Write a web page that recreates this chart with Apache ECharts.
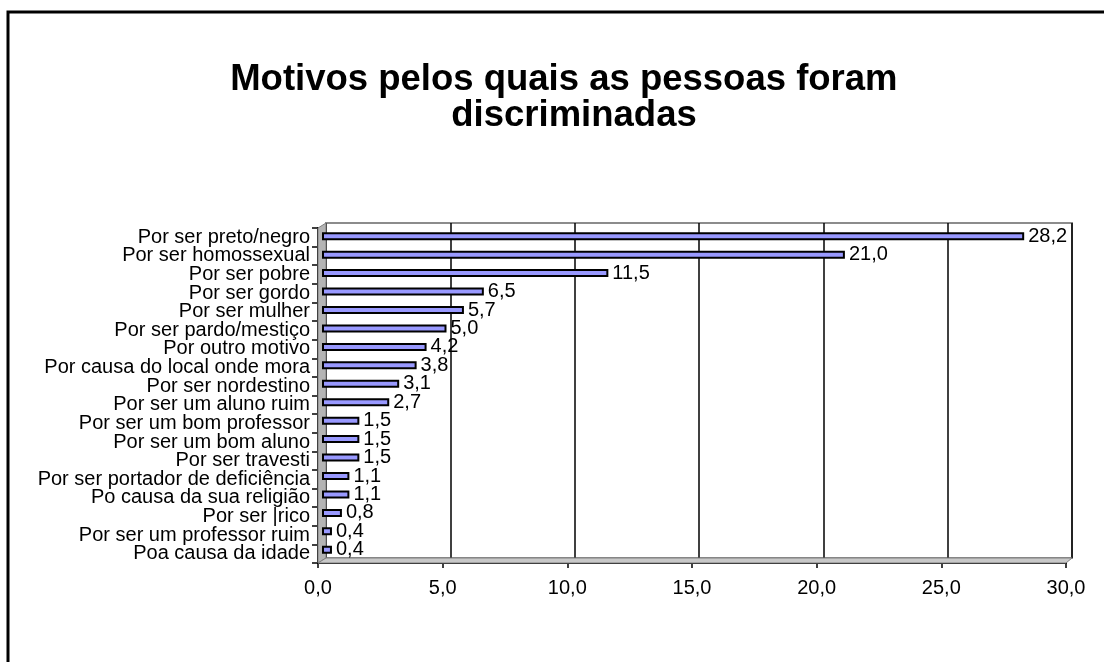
<!DOCTYPE html>
<html>
<head>
<meta charset="utf-8">
<script src="https://cdn.jsdelivr.net/npm/echarts@6/dist/echarts.min.js"></script>
<style>
  html, body { margin: 0; padding: 0; background: #ffffff; }
  #chart { width: 1104px; height: 662px; }
</style>
</head>
<body>
<div id="chart"></div>
<script>
// Motivos de discriminação (%)
const categories = [
  'Por ser preto/negro',
  'Por ser homossexual',
  'Por ser pobre',
  'Por ser gordo',
  'Por ser mulher',
  'Por ser pardo/mestiço',
  'Por outro motivo',
  'Por causa do local onde mora',
  'Por ser nordestino',
  'Por ser um aluno ruim',
  'Por ser um bom professor',
  'Por ser um bom aluno',
  'Por ser travesti',
  'Por ser portador de deficiência',
  'Po causa da sua religião',
  'Por ser |rico',
  'Por ser um professor ruim',
  'Poa causa da idade'
];
const values = [28.2, 21.0, 11.5, 6.5, 5.7, 5.0, 4.2, 3.8, 3.1, 2.7, 1.5, 1.5, 1.5, 1.1, 1.1, 0.8, 0.4, 0.4];
const xMin = 0, xMax = 30, xStep = 5;

const FONT = "'Liberation Sans', Arial, sans-serif";
const fmt = v => v.toFixed(1).replace('.', ',');

const chart = echarts.init(document.getElementById('chart'), null, { renderer: 'canvas' });

chart.setOption({
  animation: false,
  backgroundColor: '#ffffff',
  title: {
    text: 'Motivos pelos quais as pessoas foram  \ndiscriminadas',
    left: 569,
    top: 57,
    textAlign: 'center',
    textStyle: {
      fontFamily: FONT,
      fontWeight: 'bold',
      fontSize: 36.5,
      lineHeight: 36,
      color: '#000000'
    }
  },
  graphic: [
    // outer frame
    {
      type: 'rect', z: 10, silent: true,
      shape: { x: 8, y: 12, width: 1200, height: 800 },
      style: { fill: 'none', stroke: '#000000', lineWidth: 3 }
    },
    // left side wall of the 3D plot
    {
      type: 'polygon', z: 1, silent: true,
      shape: { points: [[318, 228], [326, 223], [326, 558], [318, 563]] },
      style: { fill: '#b4b4b4', stroke: '#808080', lineWidth: 1 }
    },
    // floor of the 3D plot
    {
      type: 'polygon', z: 1, silent: true,
      shape: { points: [[318, 563], [326, 558], [1072, 558], [1066, 563]] },
      style: { fill: '#c8c8c8', stroke: '#808080', lineWidth: 1 }
    }
  ],
  grid: [
    // back wall with gridlines
    { left: 326, right: 32, top: 223, bottom: 104, show: true,
      backgroundColor: '#ffffff', borderColor: '#8c8c8c', borderWidth: 2 },
    // bars
    { left: 322, right: 35, top: 227, bottom: 103 },
    // front axes
    { left: 318, right: 38, top: 228, bottom: 99 }
  ],
  xAxis: [
    { gridIndex: 0, type: 'value', min: xMin, max: xMax, interval: xStep,
      axisLine: { show: false }, axisTick: { show: false }, axisLabel: { show: false },
      splitLine: { show: true, lineStyle: { color: '#000000', width: 1.5 } } },
    { gridIndex: 1, type: 'value', min: xMin, max: xMax, interval: xStep,
      axisLine: { show: false }, axisTick: { show: false }, axisLabel: { show: false },
      splitLine: { show: false } },
    { gridIndex: 2, type: 'value', min: xMin, max: xMax, interval: xStep,
      axisLine: { show: true, lineStyle: { color: '#000000', width: 2 } },
      axisTick: { show: true, length: 5, lineStyle: { color: '#000000', width: 1.5 } },
      splitLine: { show: false },
      axisLabel: { show: true, margin: 15, fontFamily: FONT, fontSize: 20, color: '#000000',
        formatter: v => fmt(v) } }
  ],
  yAxis: [
    { gridIndex: 0, type: 'category', data: categories, inverse: true,
      axisLine: { show: false }, axisTick: { show: false }, axisLabel: { show: false } },
    { gridIndex: 1, type: 'category', data: categories, inverse: true,
      axisLine: { show: false }, axisTick: { show: false }, axisLabel: { show: false } },
    { gridIndex: 2, type: 'category', data: categories, inverse: true,
      axisLine: { show: true, lineStyle: { color: '#000000', width: 2 } },
      axisTick: { show: true, length: 6, lineStyle: { color: '#000000', width: 1.5 } },
      axisLabel: { show: true, interval: 0, margin: 8, fontFamily: FONT, fontSize: 20,
        color: '#000000' } }
  ],
  series: [
    {
      type: 'bar',
      xAxisIndex: 1,
      yAxisIndex: 1,
      data: values,
      barWidth: 8,
      z: 3,
      itemStyle: { color: '#9999ff', borderColor: '#000000', borderWidth: 2 },
      label: {
        show: true,
        position: 'right',
        distance: 4,
        fontFamily: FONT,
        fontSize: 20,
        color: '#000000',
        formatter: p => fmt(p.value)
      }
    }
  ]
});
</script>
</body>
</html>
